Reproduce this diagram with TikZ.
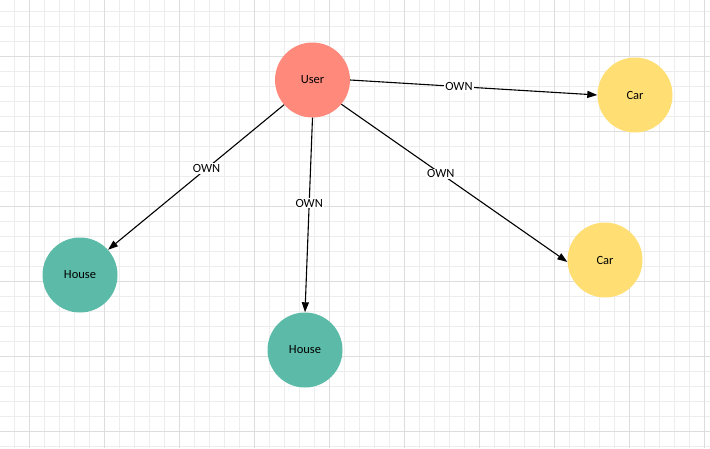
\documentclass[tikz,border=0pt]{standalone}
\usepackage{fontspec}
\setmainfont{Carlito}
\usetikzlibrary{arrows.meta,positioning}
\definecolor{userred}{HTML}{FF8A7C}
\definecolor{caryellow}{HTML}{FFDF73}
\definecolor{houseteal}{HTML}{5CBBA8}
\definecolor{gridminor}{HTML}{EDEDED}
\definecolor{gridmajor}{HTML}{DDDDDD}

\begin{document}
\begin{tikzpicture}[x=1pt,y=-1pt,
			ent/.style={circle,minimum size=75pt,inner sep=0pt,font=\fontsize{12.5}{14}\selectfont},
			own/.style={-{Triangle[length=10pt,width=7pt]},line width=1.1pt,black},
			lbl/.style={fill=white,inner sep=1pt,pos=0.44,font=\fontsize{12.5}{14}\selectfont}
			]
			\useasboundingbox (0,0) rectangle (710,448);
			\fill[white] (0,0) rectangle (710,448);
			% grid
			\foreach \x in {14,29,...,704} \draw[gridminor,line width=0.75pt] (\x,0) -- (\x,448);
			\foreach \y in {11,26,...,446} \draw[gridminor,line width=0.75pt] (0,\y) -- (710,\y);
			\foreach \x in {29,104,...,704} \draw[gridmajor,line width=0.75pt] (\x,0) -- (\x,448);
			\foreach \y in {56,131,...,446} \draw[gridmajor,line width=0.75pt] (0,\y) -- (710,\y);
			% nodes
			\node[ent,fill=userred] (user) at (312.5,80) {User};
			\node[ent,fill=caryellow] (car1) at (635,95) {Car};
			\node[ent,fill=caryellow] (car2) at (605,260) {Car};
			\node[ent,fill=houseteal] (house1) at (80,275) {House};
			\node[ent,fill=houseteal] (house2) at (305,350) {House};
			% edges
			\draw[own] (user.east) -- node[lbl] {OWN} (car1.west);
			\draw[own] (user.-139) -- node[lbl] {OWN} (house1.42);
			\draw[own] (user.south) -- node[lbl] {OWN} (house2.north);
			\draw[own] (user.-40) -- node[lbl] {OWN} (car2.183);
		\end{tikzpicture}
\end{document}
